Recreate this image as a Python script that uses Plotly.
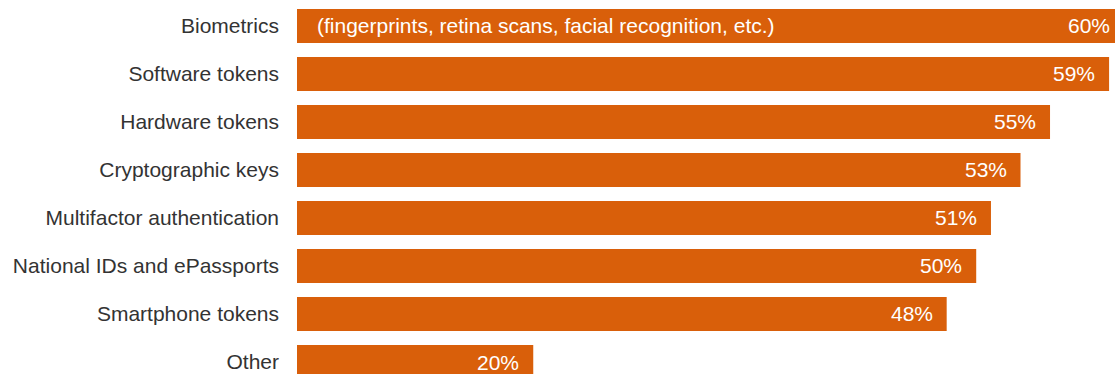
import plotly.graph_objects as go

categories = [
    "Biometrics",
    "Software tokens",
    "Hardware tokens",
    "Cryptographic keys",
    "Multifactor authentication",
    "National IDs and ePassports",
    "Smartphone tokens",
    "Other",
]
values = [60, 59, 55, 53, 51, 50, 48, 20]
value_labels = ["60%", "59%", "55%", "53%", "51%", "50%", "48%", "20%"]
biometrics_note = "(fingerprints, retina scans, facial recognition, etc.)"

BAR_COLOR = "#D95F0A"
FONT = "Liberation Sans, Arial, Helvetica, sans-serif"
FONT_SIZE = 21

WIDTH, HEIGHT = 1115, 374
MARGIN_L = 297
X_RANGE = [4, 59.4]
px_per_unit = (WIDTH - MARGIN_L) / (X_RANGE[1] - X_RANGE[0])

fig = go.Figure(
    go.Bar(
        x=values,
        y=categories,
        orientation="h",
        marker=dict(color=BAR_COLOR, line=dict(width=0)),
        width=0.71,
        hoverinfo="skip",
    )
)

# value labels inside the bar ends; bars running past the axis end keep
# their label position by shifting from the clamped anchor
for cat, val, lab in zip(categories, values, value_labels):
    anchor = min(val, X_RANGE[1])
    shift = -12 + (val - anchor) * px_per_unit
    fig.add_annotation(
        x=anchor, y=cat, xref="x", yref="y",
        text=lab, showarrow=False,
        xanchor="right", yanchor="middle", xshift=shift,
        font=dict(family=FONT, size=FONT_SIZE, color="white"),
    )

# explanatory note inside the first bar
fig.add_annotation(
    x=0, y=categories[0], xref="paper", yref="y",
    text=biometrics_note, showarrow=False,
    xanchor="left", yanchor="middle", xshift=18,
    font=dict(family=FONT, size=FONT_SIZE, color="white"),
)

fig.update_layout(
    width=WIDTH, height=HEIGHT,
    margin=dict(l=MARGIN_L, r=0, t=0, b=0),
    paper_bgcolor="white", plot_bgcolor="white",
    showlegend=False,
    font=dict(family=FONT, size=FONT_SIZE, color="#333333"),
    xaxis=dict(range=X_RANGE, visible=False, fixedrange=True),
    yaxis=dict(
        type="category",
        categoryorder="array", categoryarray=categories,
        range=[7.25, -0.54],
        showgrid=False, zeroline=False, showline=False,
        ticks="", ticklabelstandoff=17,
        tickfont=dict(family=FONT, size=FONT_SIZE, color="#333333"),
        fixedrange=True,
    ),
)

fig.write_html("out.html", config={"displayModeBar": False})
